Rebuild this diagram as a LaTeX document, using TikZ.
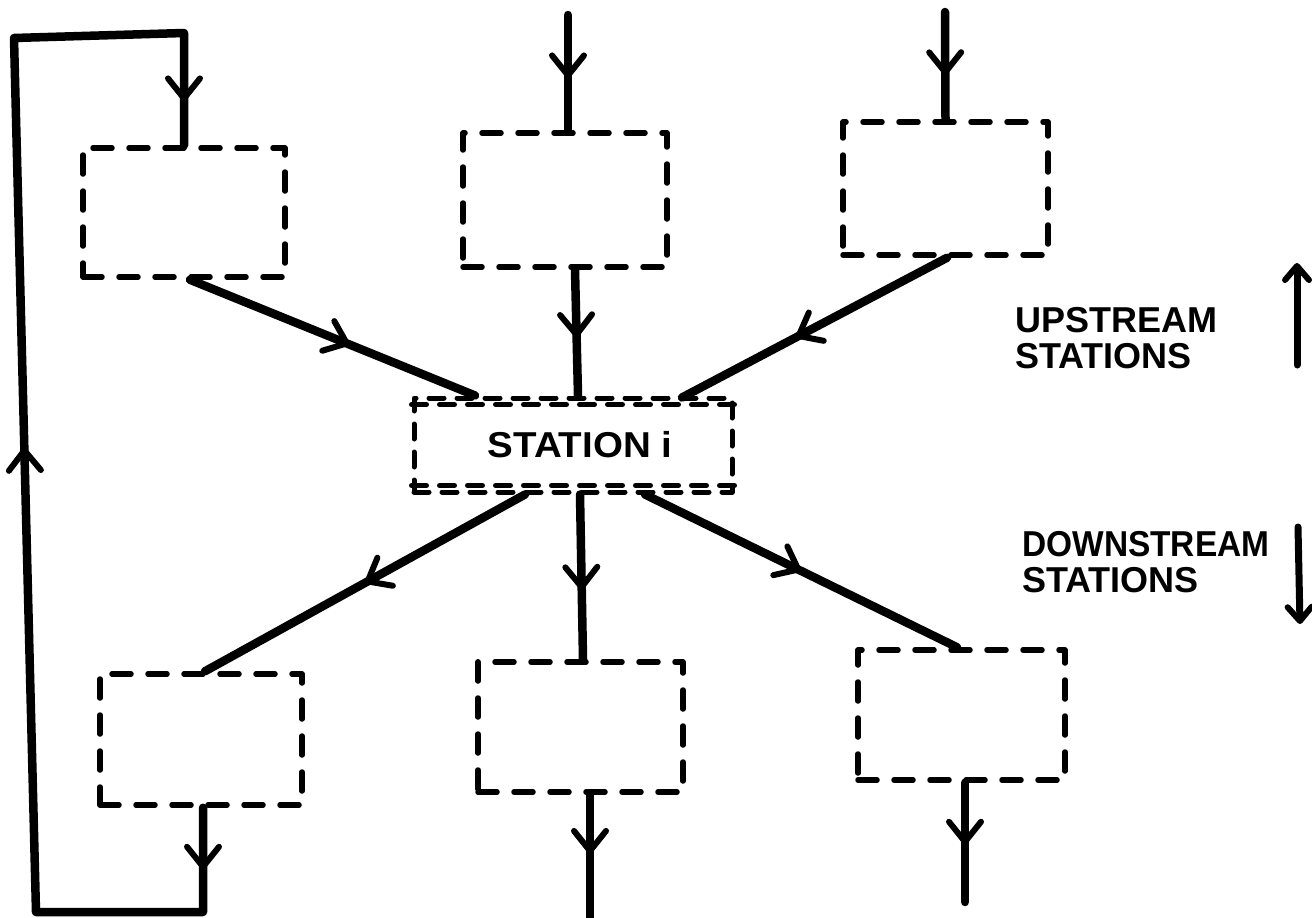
\documentclass[tikz,border=0pt]{standalone}
\usepackage{fontspec}
\usepackage{graphicx}
\setmainfont{Liberation Sans}
\usetikzlibrary{arrows.meta,decorations.markings}
\begin{document}
\begin{tikzpicture}[x=1pt,y=-1pt,
  >={Straight Barb[round,length=20pt,width=32pt,line width=6pt]},
  box/.style={draw, line width=5.5pt, dash pattern=on 19pt off 17pt, line cap=round, line join=round, inner sep=0pt},
  stline/.style={line width=5pt, dash pattern=on 15pt off 13pt, line cap=round},
  flow/.style={draw, line width=8.5pt, line cap=round, line join=round},
  midarr/.style={postaction={decorate}, decoration={markings, mark=at position #1 with {\arrow{>}}}},
  lbl/.style={font=\fontsize{36}{36}\selectfont\bfseries, inner sep=0pt, anchor=base west},
  sidearrow/.style={line width=7pt, line cap=round, -{Straight Barb[round,length=14pt,width=24pt,line width=6pt]}},
]
\useasboundingbox (0,0) rectangle (1312,918);

% upstream boxes
\node[box, minimum width=202pt, minimum height=129pt] (ul) at (184,212.5) {};
\node[box, minimum width=204pt, minimum height=134pt] (um) at (565,200) {};
\node[box, minimum width=205pt, minimum height=133pt] (ur) at (945.5,188.5) {};
% downstream boxes
\node[box, minimum width=202pt, minimum height=131pt] (ll) at (201,739.5) {};
\node[box, minimum width=205pt, minimum height=130pt] (lm) at (580.5,727) {};
\node[box, minimum width=207pt, minimum height=130pt] (lr) at (961.5,715) {};
% station i
\node[box, line width=5pt, dash pattern=on 15pt off 13pt, minimum width=318pt, minimum height=94pt,
      font=\fontsize{36}{36}\selectfont\bfseries] (st) at (573,445) {\hspace*{14pt}\scalebox{1.07}[1]{STATION i}};
\draw[stline] ([yshift=-9pt]st.north west) -- ([yshift=-9pt]st.north east);
\draw[stline] ([yshift=9pt]st.south west) -- ([yshift=9pt]st.south east);

% inputs
\coordinate (inm) at (568,15);
\coordinate (inr) at (945,12);
\draw[flow, midarr=0.55] (inm) -- ([xshift=3pt]um.north);
\draw[flow, midarr=0.59] (inr) -- (ur.north);

% upstream to station
\draw[flow, midarr=0.56] ([xshift=6pt]ul.south) -- ([xshift=-98pt]st.north);
\draw[flow, midarr=0.54] ([xshift=10pt]um.south) -- ([xshift=5pt]st.north);
\draw[flow, midarr=0.57] ([xshift=1.5pt]ur.south) -- ([xshift=109pt,yshift=-2pt]st.north);

% station to downstream
\draw[flow, midarr=0.5] ([xshift=-48pt]st.south) -- ([xshift=4pt]ll.north);
\draw[flow, midarr=0.58] ([xshift=7pt]st.south) -- ([xshift=2.5pt]lm.north);
\draw[flow, midarr=0.5] ([xshift=72pt]st.south) -- ([xshift=-4.5pt]lr.north);

% outputs
\coordinate (outm) at (590,918);
\coordinate (outr) at (965,902);
\draw[flow, midarr=0.48] ([xshift=9.5pt]lm.south) -- (outm);
\draw[flow, midarr=0.52] ([xshift=3.5pt]lr.south) -- (outr);

% feedback loop
\coordinate (lp1) at (203,912);
\coordinate (lp2) at (36,912);
\coordinate (lp3) at (14,38);
\coordinate (lp4) at (184,33);
\draw[flow, postaction={decorate}, decoration={markings,
    mark=at position 62pt with {\arrow{>}},
    mark=at position 736pt with {\arrow{>}},
    mark=at position 1384pt with {\arrow{>}}}]
  ([xshift=2pt]ll.south) -- (lp1) -- (lp2) -- (lp3) -- (lp4) -- (ul.north);

% legend
\node[lbl] (up1) at (1015,332) {UPSTREAM};
\node[lbl] (up2) at (1015,368) {STATIONS};
\node[lbl] (dn1) at (1022,556) {\scalebox{0.93}[1]{DOWNSTREAM}};
\node[lbl] (dn2) at (1022,592) {STATIONS};
\coordinate (ua0) at (1297,365);
\coordinate (ua1) at (1297,263);
\draw[sidearrow] (ua0) -- (ua1);
\coordinate (da0) at (1298,527);
\coordinate (da1) at (1300,624);
\draw[sidearrow] (da0) -- (da1);
\end{tikzpicture}
\end{document}
